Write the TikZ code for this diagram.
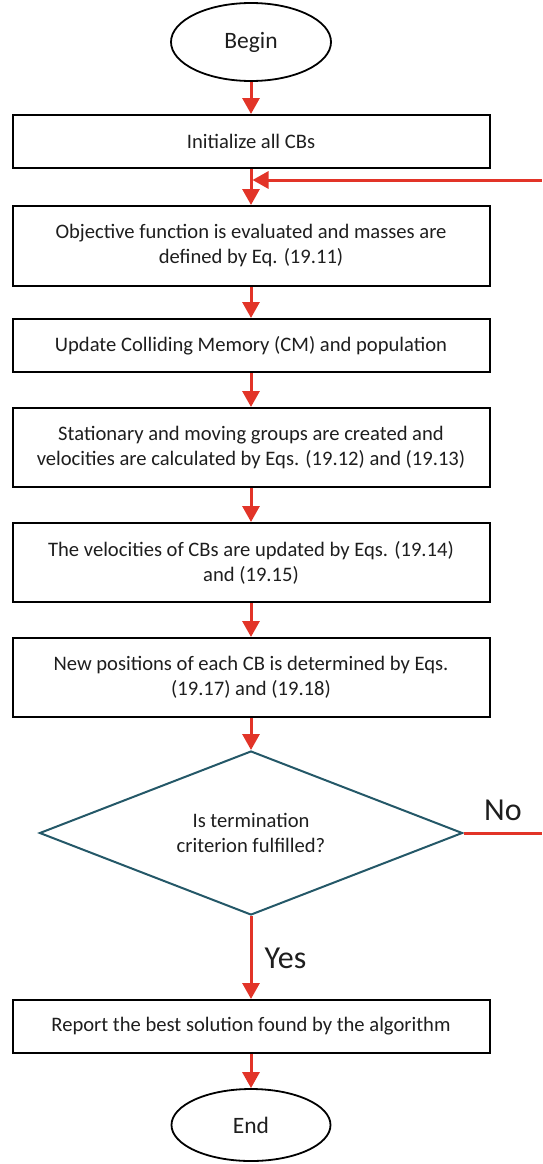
\documentclass[tikz,border=0pt]{standalone}
\usepackage{fontspec}
\setmainfont{Carlito}
\usepackage{xcolor}
\usetikzlibrary{shapes.geometric, arrows.meta, calc}

\definecolor{flowred}{RGB}{226,52,40}
\definecolor{decteal}{RGB}{36,88,104}
\definecolor{inkgray}{RGB}{30,30,30}

\tikzset{
	procbox/.style = {draw = black, line width = 2pt, rectangle, minimum width = 477pt,
		align = center, text = inkgray, font = \fontsize{20.6}{25}\selectfont, inner sep = 0pt},
	termnode/.style = {draw = black, line width = 1.8pt, ellipse, text = inkgray,
		font = \fontsize{23.5}{26}\selectfont, inner sep = 0pt},
	decnode/.style = {draw = decteal, line width = 2pt, diamond, aspect = 2.58, align = center,
		minimum width = 423pt, minimum height = 164pt, inner sep = 0pt, text = inkgray,
		font = \fontsize{20.6}{25}\selectfont},
	flow/.style = {draw = flowred, line width = 3pt, -{Triangle[width = 17pt, length = 16pt]}},
	branch/.style = {text = inkgray, font = \fontsize{32}{36}\selectfont, inner sep = 0pt}
}

\begin{document}
\begin{tikzpicture}[x = 1pt, y = -1pt]
	\def\cx{251};
	\def\edge{542};

	\useasboundingbox (0,0) rectangle (\edge,1164);

	% terminals
	\node [termnode, minimum width = 160pt, minimum height = 78pt] (begin) at (\cx,42) {Begin};
	\node [termnode, minimum width = 159pt, minimum height = 72pt] (end) at (\cx,1125) {End};

	% process steps
	\node [procbox, minimum height = 53pt] (init) at (\cx,141.5) {Initialize all CBs};
	\node [procbox, minimum height = 80pt] (objfun) at (\cx,246)
		{Objective function is evaluated and masses are\\defined by Eq. (19.11)};
	\node [procbox, minimum height = 53pt] (update) at (\cx,345.5)
		{Update Colliding Memory (CM) and population};
	\node [procbox, minimum height = 79pt] (groups) at (\cx,447.5)
		{Stationary and moving groups are created and\\velocities are calculated by Eqs. (19.12) and (19.13)};
	\node [procbox, minimum height = 79pt] (veloc) at (\cx,562.5)
		{The velocities of CBs are updated by Eqs. (19.14)\\and (19.15)};
	\node [procbox, minimum height = 79pt] (newpos) at (\cx,677.5)
		{New positions of each CB is determined by Eqs.\\(19.17) and (19.18)};
	\node [decnode] (check) at (\cx,833) {Is termination\\criterion fulfilled?};
	\node [procbox, minimum height = 53pt] (report) at (\cx,1026.5)
		{Report the best solution found by the algorithm};

	% connectors
	\draw [flow] (begin) -- (init);
	\draw [flow] (init) -- (objfun);
	\draw [flow] (objfun) -- (update);
	\draw [flow] (update) -- (groups);
	\draw [flow] (groups) -- (veloc);
	\draw [flow] (veloc) -- (newpos);
	\draw [flow] (newpos) -- (check);
	\draw [flow] (check) -- (report);
	\draw [flow] (report) -- (end);
	\node [branch] (yes) at (285.5,958) {Yes};

	% loop back
	\coordinate (noend) at (\edge,833);
	\coordinate (backstart) at (\edge,180);
	\coordinate (merge) at ([xshift = 1.5pt]init.south |- backstart);
	\draw [draw = flowred, line width = 3pt] (check.east) -- (noend);
	\node [branch] (no) at (503,810) {No};
	\draw [flow] (backstart) -- (merge);
\end{tikzpicture}
\end{document}
